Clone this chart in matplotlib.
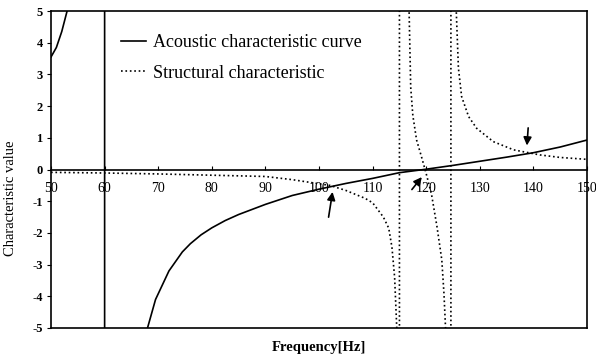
import numpy as np
import matplotlib
matplotlib.use("Agg")
import matplotlib.pyplot as plt

plt.rcParams['font.family'] = ['Liberation Serif', 'DejaVu Serif']

# acoustic characteristic curve (values off the chart are where the curve runs out of range)
ac_freq = [50, 51, 52, 53, 55, 58, 60, 60, 63, 66, 68, 69.5, 72, 74.5, 76, 78, 80, 82.5, 85,
           90, 95, 100, 105, 110, 115, 120, 125, 130, 135, 140, 145, 150]
ac_val = [3.55, 3.85, 4.35, 5.0, 6.5, 12, 60, -60, -12, -7, -5.0, -4.1, -3.2, -2.6, -2.34, -2.06,
          -1.84, -1.61, -1.42, -1.1, -0.82, -0.62, -0.44, -0.28, -0.1, 0.01, 0.13, 0.26, 0.39,
          0.53, 0.71, 0.93]

# structural characteristic
st_freq = [50, 60, 70, 80, 90, 95, 100, 102, 105, 108.6, 110, 112, 113, 113.6, 114.1, 114.5,
           115.0, 115.0, 116, 116.8, 117.1, 117.5, 118.2, 119.2, 120.1, 121, 122, 122.9, 123.3,
           123.6, 124.6, 124.6, 125.2, 125.6, 126.0, 126.6, 127.9, 129.4, 132.5, 136.3, 141.2,
           145, 150]
st_val = [-0.09, -0.11, -0.14, -0.18, -0.22, -0.32, -0.45, -0.5, -0.66, -0.91, -1.05, -1.5,
          -1.85, -2.45, -3.4, -5.0, -60, 60, 15, 5.0, 2.6, 1.7, 0.93, 0.35, -0.2, -0.8, -1.8,
          -2.85, -3.9, -5.0, -60, 60, 10, 5.0, 3.2, 2.3, 1.67, 1.3, 0.88, 0.62, 0.46, 0.38, 0.32]

# arrows marking the crossing points: (tail, head)
arrows = [((101.7, -1.59), (102.6, -0.62)),
          ((117.0, -0.70), (119.5, -0.17)),
          ((139.05, 1.40), (138.75, 0.67))]

x_ticks = [50, 60, 70, 80, 90, 100, 110, 120, 130, 140, 150]
y_ticks = [5, 4, 3, 2, 1, 0, -1, -2, -3, -4, -5]

fig = plt.figure(figsize=(5.96, 3.6), dpi=100)
ax = fig.add_axes([0.0856, 0.0889, 0.8994, 0.8805])

ax.plot(ac_freq, ac_val, '-', color='k', lw=1.2, label='Acoustic characteristic curve')
ax.plot(st_freq, st_val, ':', color='k', lw=1.2, label='Structural characteristic')

for tail, head in arrows:
    ax.annotate('', xy=head, xytext=tail,
                arrowprops=dict(arrowstyle='-|>', color='k', lw=1.2, mutation_scale=12))

ax.set_xlim(50, 150)
ax.set_ylim(-5, 5)
ax.set_xticks(x_ticks)
ax.set_yticks(y_ticks)
ax.set_xticklabels([str(t) for t in x_ticks], fontweight='bold', fontsize=10)
ax.set_yticklabels([str(t) for t in y_ticks], fontweight='bold', fontsize=9)

# x axis runs through zero, box kept around the plot
ax.spines['bottom'].set_position(('data', 0))
ax.axhline(-5, color='k', lw=1.2, clip_on=False)
for s in ax.spines.values():
    s.set_linewidth(1.2)
ax.tick_params(axis='x', direction='in', length=3, pad=9)
ax.tick_params(axis='y', direction='out', length=3, pad=3)

ax.set_xlabel('Frequency[Hz]', fontweight='bold', fontsize=10.5)
ax.xaxis.set_label_coords(0.5, -0.04)
ax.set_ylabel('Characteristic value', fontsize=10.5)
ax.yaxis.set_label_coords(-0.063, 0.41)

ax.legend(loc='upper left', bbox_to_anchor=(0.113, 0.956), frameon=False, fontsize=13,
          handlelength=1.4, handletextpad=0.4, borderpad=0, labelspacing=0.75)

fig.savefig('out.png', dpi=100)
